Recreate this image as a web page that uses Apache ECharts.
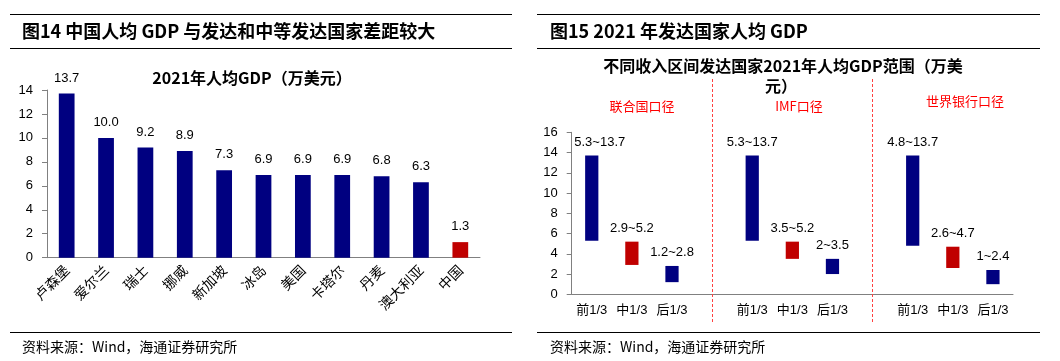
<!DOCTYPE html>
<html>
<head>
<meta charset="utf-8">
<script src="https://cdn.jsdelivr.net/npm/echarts@6/dist/echarts.min.js"></script>
<style>
html,body{margin:0;padding:0;background:#fff;}
#c{width:1060px;height:361px;}
</style>
</head>
<body>
<div id="c"></div>
<script>
// ---- Left chart data ----
const countries = ['卢森堡','爱尔兰','瑞士','挪威','新加坡','冰岛','美国','卡塔尔','丹麦','澳大利亚','中国'];
const gdpValues = [13.7, 10.0, 9.2, 8.9, 7.3, 6.9, 6.9, 6.9, 6.8, 6.3, 1.3];
const leftTicks = [0, 2, 4, 6, 8, 10, 12, 14];

// ---- Right chart data ----
const groupCats = ['前1/3','中1/3','后1/3','','前1/3','中1/3','后1/3','','前1/3','中1/3','后1/3'];
const rangeLow  = [5.3, 2.9, 1.2, null, 5.3, 3.5, 2.0, null, 4.8, 2.6, 1.0];
const rangeHigh = [13.7, 5.2, 2.8, null, 13.7, 5.2, 3.5, null, 13.7, 4.7, 2.4];
const rangeText = ['5.3~13.7','2.9~5.2','1.2~2.8','','5.3~13.7','3.5~5.2','2~3.5','','4.8~13.7','2.6~4.7','1~2.4'];
const separatorAt = [3, 7];
const groupNames = ['联合国口径','IMF口径','世界银行口径'];
const rightTicks = [0, 2, 4, 6, 8, 10, 12, 14, 16];

const NAVY = '#000080', RED = '#C00000';
const FONT = '"Liberation Sans","Noto Sans CJK SC",sans-serif';
const CJK = '"Noto Sans CJK SC",sans-serif';

const chart = echarts.init(document.getElementById('c'), null, {renderer:'canvas'});

const leftColors = countries.map(c => c === '中国' ? RED : NAVY);
const rightColors = groupCats.map(c => c === '中1/3' ? RED : NAVY);

const axisLineStyle = {color:'#808080', width:1};

const option = {
  animation:false,
  backgroundColor:'#fff',
  textStyle:{fontFamily:FONT},
  grid:[
    {left:47, right:580, top:90, bottom:103.3, containLabel:false},
    {left:571.7, right:47, top:132.3, bottom:66.7, containLabel:false},
    {left:571.7, right:47, top:78, bottom:39, containLabel:false}
  ],
  xAxis:[
    {gridIndex:0, type:'category', data:countries,
     axisLine:{lineStyle:axisLineStyle}, axisTick:{length:4, lineStyle:axisLineStyle},
     axisLabel:{interval:0, rotate:45, margin:10, fontSize:14, color:'#000', fontFamily:CJK}},
    {gridIndex:1, type:'category', data:groupCats,
     axisLine:{lineStyle:axisLineStyle}, axisTick:{length:4, interval:0, lineStyle:axisLineStyle},
     axisLabel:{interval:0, margin:10, fontSize:13, color:'#000', fontFamily:FONT}},
    {gridIndex:2, type:'category', data:groupCats, show:false}
  ],
  yAxis:[
    {gridIndex:0, type:'value', min:leftTicks[0], max:leftTicks[leftTicks.length-1], interval:2,
     axisLine:{show:true, lineStyle:axisLineStyle}, axisTick:{show:true, length:5, lineStyle:axisLineStyle},
     splitLine:{show:false}, axisLabel:{fontSize:13, color:'#000', margin:14}},
    {gridIndex:1, type:'value', min:rightTicks[0], max:rightTicks[rightTicks.length-1], interval:2,
     axisLine:{show:true, lineStyle:axisLineStyle}, axisTick:{show:true, length:5, lineStyle:axisLineStyle},
     splitLine:{show:false}, axisLabel:{fontSize:13, color:'#000', margin:14}},
    {gridIndex:2, type:'value', min:0, max:1, show:false}
  ],
  series:[
    {type:'bar', xAxisIndex:0, yAxisIndex:0, barWidth:'40%',
     data: gdpValues.map((v,i)=>({value:v, itemStyle:{color:leftColors[i]}})),
     label:{show:true, position:'top', distance:9, fontSize:13, color:'#000',
            formatter:p=>p.value.toFixed(1)}},
    {type:'bar', xAxisIndex:1, yAxisIndex:1, stack:'r', barWidth:'33%',
     itemStyle:{color:'transparent'}, silent:true,
     data: rangeLow},
    {type:'bar', xAxisIndex:1, yAxisIndex:1, stack:'r', barWidth:'33%',
     data: rangeHigh.map((h,i)=> h==null ? null : ({
       value: +(h - rangeLow[i]).toFixed(2),
       itemStyle:{color:rightColors[i]},
       label: i===0 ? {offset:[8,0]} : undefined
     })),
     label:{show:true, position:'top', distance:7, fontSize:13, color:'#000',
            formatter:p=>rangeText[p.dataIndex]}},
    {type:'line', xAxisIndex:2, yAxisIndex:2, data:[], symbol:'none',
     markLine:{silent:true, symbol:'none', label:{show:false},
       lineStyle:{color:'#FF4040', type:[3,2], width:1},
       data: separatorAt.map(i=>({xAxis:i}))}}
  ],
  graphic:[
    {type:'line', shape:{x1:10,y1:14.5,x2:512,y2:14.5}, style:{stroke:'#000', lineWidth:1}},
    {type:'line', shape:{x1:10,y1:48.5,x2:512,y2:48.5}, style:{stroke:'#000', lineWidth:1}},
    {type:'line', shape:{x1:10,y1:332.5,x2:512,y2:332.5}, style:{stroke:'#000', lineWidth:1}},
    {type:'line', shape:{x1:537,y1:14.5,x2:1040,y2:14.5}, style:{stroke:'#000', lineWidth:1}},
    {type:'line', shape:{x1:537,y1:48.5,x2:1040,y2:48.5}, style:{stroke:'#000', lineWidth:1}},
    {type:'line', shape:{x1:537,y1:332.5,x2:1040,y2:332.5}, style:{stroke:'#000', lineWidth:1}},
    {type:'text', x:22, y:31, style:{text:'图14 中国人均 GDP 与发达和中等发达国家差距较大', font:'bold 18px '+CJK, fill:'#000', textVerticalAlign:'middle'}},
    {type:'text', x:550, y:31, style:{text:'图15 2021 年发达国家人均 GDP', font:'bold 18px '+CJK, fill:'#000', textVerticalAlign:'middle'}},
    {type:'text', x:252, y:78, style:{text:'2021年人均GDP（万美元）', font:'bold 16px '+CJK, fill:'#000', textAlign:'center', textVerticalAlign:'middle'}},
    {type:'text', x:783, y:66, style:{text:'不同收入区间发达国家2021年人均GDP范围（万美', font:'bold 16px '+CJK, fill:'#000', textAlign:'center', textVerticalAlign:'middle'}},
    {type:'text', x:781, y:86, style:{text:'元）', font:'bold 16px '+CJK, fill:'#000', textAlign:'center', textVerticalAlign:'middle'}},
    {type:'text', x:642, y:106, style:{text:groupNames[0], font:'13px '+CJK, fill:'#FF0000', textAlign:'center', textVerticalAlign:'middle'}},
    {type:'text', x:799, y:106, style:{text:groupNames[1], font:'13px '+CJK, fill:'#FF0000', textAlign:'center', textVerticalAlign:'middle'}},
    {type:'text', x:965, y:101.5, style:{text:groupNames[2], font:'13px '+CJK, fill:'#FF0000', textAlign:'center', textVerticalAlign:'middle'}},
    {type:'text', x:22, y:347, style:{text:'资料来源：Wind，海通证券研究所', font:'14px '+CJK, fill:'#000', textVerticalAlign:'middle'}},
    {type:'text', x:550, y:347, style:{text:'资料来源：Wind，海通证券研究所', font:'14px '+CJK, fill:'#000', textVerticalAlign:'middle'}}
  ]
};
chart.setOption(option);
</script>
</body>
</html>
